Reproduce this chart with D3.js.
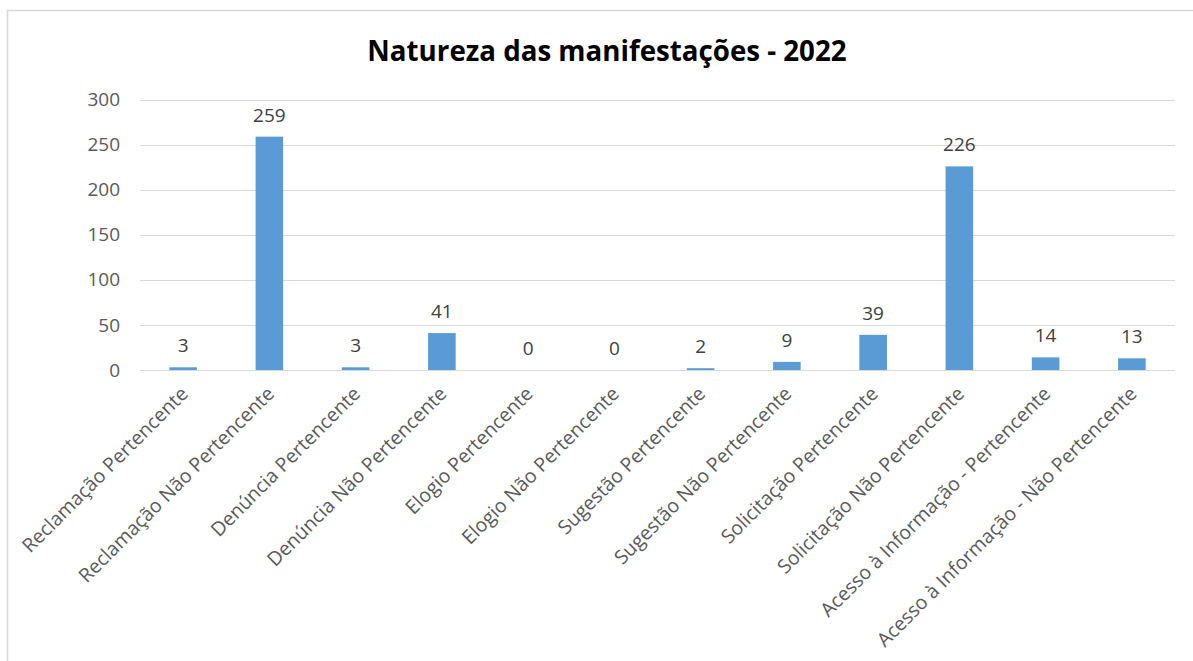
<!DOCTYPE html>
<html>
<head>
<meta charset="utf-8">
<script src="https://cdn.jsdelivr.net/npm/d3@7"></script>
<style>
  body { margin: 0; background: #fff; }
  text { font-family: "Open Sans", sans-serif; }
</style>
</head>
<body>
<div id="chart"></div>
<script>
const categories = [
  "Reclamação Pertencente",
  "Reclamação Não Pertencente",
  "Denúncia Pertencente",
  "Denúncia Não Pertencente",
  "Elogio Pertencente",
  "Elogio Não Pertencente",
  "Sugestão Pertencente",
  "Sugestão Não Pertencente",
  "Solicitação Pertencente",
  "Solicitação Não Pertencente",
  "Acesso à Informação - Pertencente",
  "Acesso à Informação - Não Pertencente"
];
const values = [3, 259, 3, 41, 0, 0, 2, 9, 39, 226, 14, 13];
const yTicks = [0, 50, 100, 150, 200, 250, 300];
const title = "Natureza das manifestações - 2022";

const width = 1193, height = 661;
const margin = { top: 100, right: 18, bottom: 291, left: 140 };

const svg = d3.select("#chart")
  .append("svg")
  .attr("width", width)
  .attr("height", height);

// chart frame (only top/left edges visible in the crop)
svg.append("rect")
  .attr("x", 7.5)
  .attr("y", 10.5)
  .attr("width", width)
  .attr("height", height)
  .attr("fill", "none")
  .attr("stroke", "#d9d9d9")
  .attr("stroke-width", 1.5);

const x = d3.scaleBand()
  .domain(categories)
  .range([margin.left, 1175])
  .paddingInner(0.68)
  .paddingOuter(0.34);

const y = d3.scaleLinear()
  .domain([0, 300])
  .range([370, 99.7]);

// gridlines
svg.append("g")
  .selectAll("line")
  .data(yTicks)
  .join("line")
  .attr("x1", margin.left)
  .attr("x2", 1175)
  .attr("y1", d => Math.round(y(d)) + 0.5)
  .attr("y2", d => Math.round(y(d)) + 0.5)
  .attr("stroke", "#d9d9d9")
  .attr("stroke-width", 1);

// y axis labels
const yAxis = d3.axisLeft(y).tickValues(yTicks).tickSize(0).tickPadding(20);
svg.append("g")
  .attr("class", "y-axis")
  .attr("transform", `translate(${margin.left},0)`)
  .call(yAxis)
  .call(g => g.select(".domain").remove())
  .call(g => g.selectAll("text")
    .attr("fill", "#595959")
    .style("font-size", "19px")
    .style("font-family", "'Open Sans', sans-serif"));

// bars
svg.append("g")
  .selectAll("rect")
  .data(values)
  .join("rect")
  .attr("x", (d, i) => x(categories[i]))
  .attr("y", d => y(d))
  .attr("width", x.bandwidth())
  .attr("height", d => y(0) - y(d))
  .attr("fill", "#5b9bd5");

// value labels
svg.append("g")
  .selectAll("text")
  .data(values)
  .join("text")
  .attr("x", (d, i) => x(categories[i]) + x.bandwidth() / 2)
  .attr("y", d => y(d) - 15)
  .attr("text-anchor", "middle")
  .attr("fill", "#404040")
  .style("font-size", "19px")
  .text(d => d);

// x axis line
svg.append("line")
  .attr("x1", margin.left)
  .attr("x2", 1175)
  .attr("y1", 370.5)
  .attr("y2", 370.5)
  .attr("stroke", "#d9d9d9");

// x axis labels, rotated
const xAxis = d3.axisBottom(x).tickSize(0).tickPadding(0);
svg.append("g")
  .attr("class", "x-axis")
  .attr("transform", "translate(0,370)")
  .call(xAxis)
  .call(g => g.select(".domain").remove())
  .call(g => g.selectAll("text")
    .attr("fill", "#595959")
    .style("font-size", "19.5px")
    .style("font-family", "'Open Sans', sans-serif")
    .attr("text-anchor", "end")
    .attr("dy", null)
    .attr("y", 0)
    .attr("transform", "translate(6,25) rotate(-45)"));

// title
const t = svg.append("text")
  .attr("x", 607)
  .attr("y", 61)
  .attr("text-anchor", "middle")
  .attr("fill", "#000")
  .style("font-weight", "bold")
  .style("font-size", "25px")
  .text(title);
const tw = t.node().getComputedTextLength();
t.style("font-size", (25 * 480 / tw).toFixed(1) + "px");
</script>
</body>
</html>
